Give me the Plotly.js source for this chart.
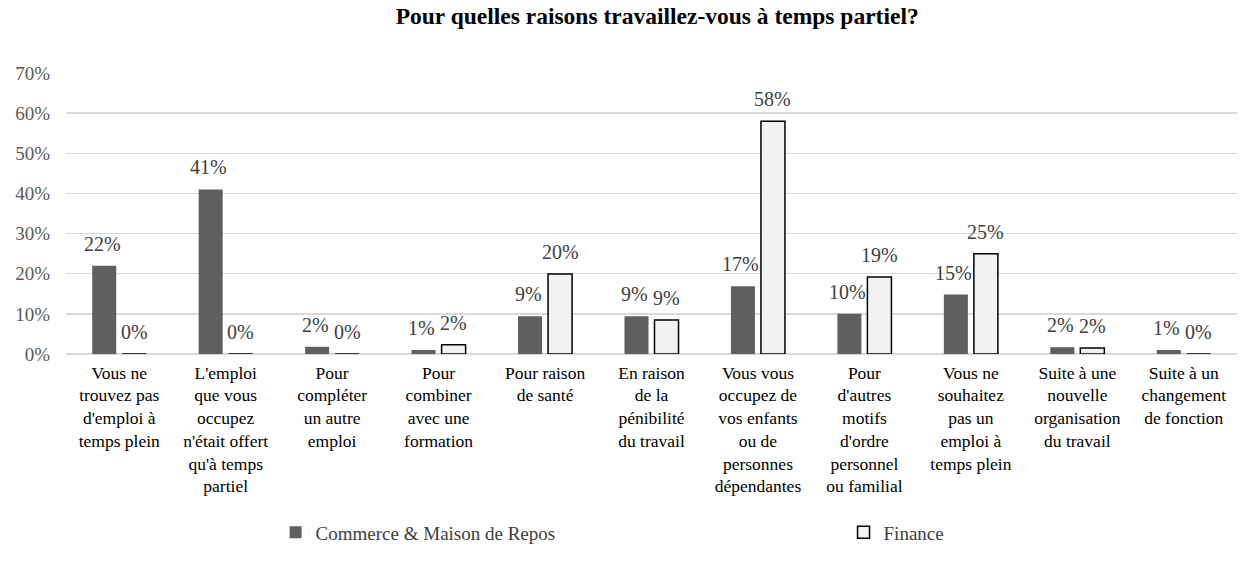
<!DOCTYPE html>
<html>
<head>
<meta charset="utf-8">
<script src="https://cdn.plot.ly/plotly-3.0.1.min.js"></script>
<style>
  html, body { margin: 0; padding: 0; background: #fff; }
  #chart { width: 1247px; height: 562px; }
</style>
</head>
<body>
<div id="chart"></div>
<script>
// Categories (line breaks as in the original chart)
const categories = [
    "Vous ne<br>trouvez pas<br>d'emploi à<br>temps plein",
    "L'emploi<br>que vous<br>occupez<br>n'était offert<br>qu'à temps<br>partiel",
    "Pour<br>compléter<br>un autre<br>emploi",
    "Pour<br>combiner<br>avec une<br>formation",
    "Pour raison<br>de santé",
    "En raison<br>de la<br>pénibilité<br>du travail",
    "Vous vous<br>occupez de<br>vos enfants<br>ou de<br>personnes<br>dépendantes",
    "Pour<br>d'autres<br>motifs<br>d'ordre<br>personnel<br>ou familial",
    "Vous ne<br>souhaitez<br>pas un<br>emploi à<br>temps plein",
    "Suite à une<br>nouvelle<br>organisation<br>du travail",
    "Suite à un<br>changement<br>de fonction"
]

// Values
const commerce = [0.22, 0.41, 0.018, 0.01, 0.094, 0.094, 0.169, 0.10, 0.148, 0.017, 0.01]
const finance = [0, 0, 0, 0.023, 0.199, 0.085, 0.58, 0.192, 0.25, 0.015, 0]

const yTicks = [0, 0.1, 0.2, 0.3, 0.4, 0.5, 0.6, 0.7]
const yTickLabels = ['0%', '10%', '20%', '30%', '40%', '50%', '60%', '70%']

const serif = '"Liberation Serif", "Times New Roman", serif'
const labelFont = { family: serif, size: 20, color: '#404040' }

const traces = [
    {
        type: 'bar',
        name: 'Commerce & Maison de Repos',
        x: categories,
        y: commerce,
        marker: { color: '#5f5f5f', line: { width: 0 } },
        legend: 'legend',
        hoverinfo: 'skip'
    },
    {
        type: 'bar',
        name: 'Finance',
        x: categories,
        y: finance,
        marker: { color: '#f2f2f2', line: { color: '#000000', width: 1.5 } },
        legend: 'legend2',
        hoverinfo: 'skip'
    }
]

// data labels above each bar, shifted to the bar's slot in the group
function pct(v) { return Math.round(v * 100) + '%' }
const annotations = []
categories.forEach((cat, i) => {
    annotations.push({
        x: cat, y: commerce[i], xref: 'x', yref: 'y',
        text: pct(commerce[i]), showarrow: false,
        xshift: -17, yshift: 9, yanchor: 'bottom',
        font: labelFont
    })
    annotations.push({
        x: cat, y: finance[i], xref: 'x', yref: 'y',
        text: pct(finance[i]), showarrow: false,
        xshift: 15, yshift: 9, yanchor: 'bottom',
        font: labelFont
    })
})

const legendBase = {
    orientation: 'h',
    xanchor: 'left',
    yanchor: 'middle',
    y: -0.635,
    font: { family: serif, size: 19, color: '#404040' },
    itemclick: false,
    itemwidth: 30
}

const layout = {
    width: 1247,
    height: 562,
    paper_bgcolor: '#ffffff',
    plot_bgcolor: '#ffffff',
    font: { family: serif, color: '#404040' },
    title: {
        text: '<b>Pour quelles raisons travaillez-vous à temps partiel?</b>',
        font: { family: serif, size: 23.5, color: '#000000' },
        x: 0.527,
        xanchor: 'center',
        y: 0.972,
        yanchor: 'middle'
    },
    margin: { l: 66, r: 10, t: 73, b: 196 },
    barmode: 'group',
    bargap: 0.436,
    bargroupgap: 0.2,
    showlegend: true,
    legend: Object.assign({}, legendBase, { x: 0.179 }),
    legend2: Object.assign({}, legendBase, { x: 0.664 }),
    annotations: annotations,
    xaxis: {
        type: 'category',
        tickfont: { family: serif, size: 17.5, color: '#000000' },
        tickangle: 0,
        showgrid: false,
        showline: false,
        ticks: '',
        ticklabelstandoff: 6,
        automargin: false
    },
    yaxis: {
        range: [0, 0.7],
        tickvals: yTicks,
        ticktext: yTickLabels,
        tickfont: { family: serif, size: 19, color: '#595959' },
        showgrid: true,
        gridcolor: '#d9d9d9',
        gridwidth: 1.5,
        zeroline: true,
        zerolinecolor: '#d9d9d9',
        zerolinewidth: 1.5,
        showline: false,
        ticks: '',
        ticklabelstandoff: 15,
        automargin: false
    }
}

Plotly.newPlot('chart', traces, layout, { displayModeBar: false, staticPlot: true })
</script>
</body>
</html>
